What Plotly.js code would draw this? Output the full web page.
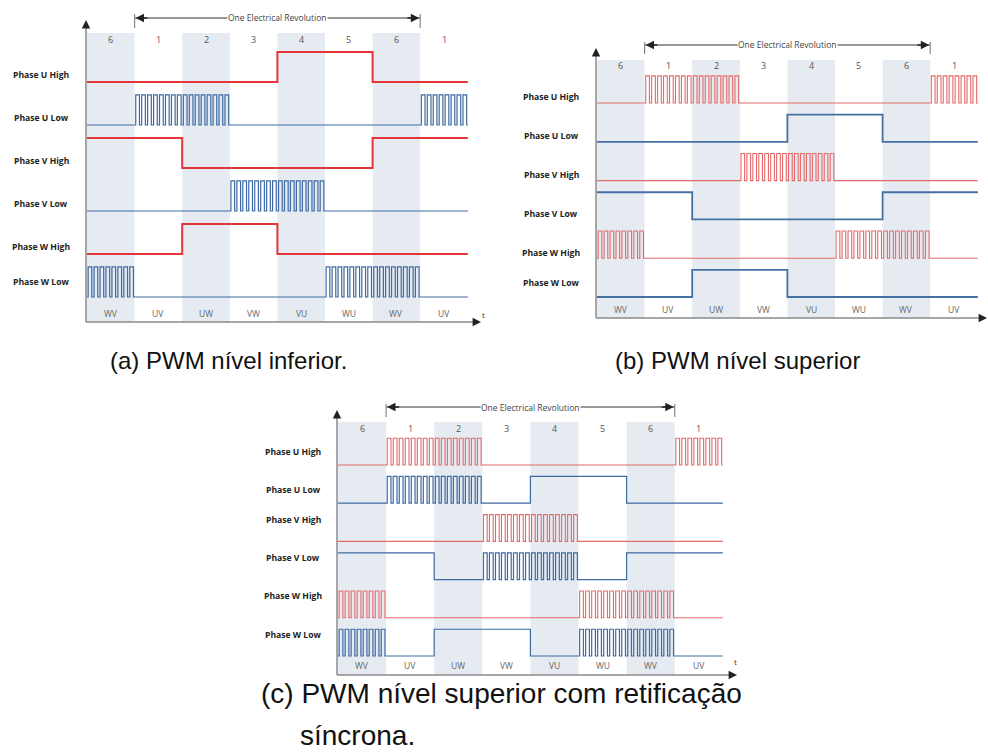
<!DOCTYPE html>
<html><head><meta charset="utf-8">
<script src="https://cdn.plot.ly/plotly-3.0.1.min.js"></script>
<style>html,body{margin:0;padding:0;background:#fff}#chart{width:988px;height:753px}</style>
</head><body><div id="chart"></div>
<script>
// ---------------- data ----------------
const columnNumbers = ['6','1','2','3','4','5','6','1'];
const commutationLabels = ['WV','UV','UW','VW','VU','WU','WV','UV'];
const shadedColumns = [1,0,1,0,1,0,1,0];
const phaseLabels = ['Phase U High','Phase U Low','Phase V High','Phase V Low','Phase W High','Phase W Low'];
const revolutionLabel = 'One Electrical Revolution';
const revolutionStartColumn = 1;
const revolutionEndColumn = 7;
const pulsesPerColumn = 8;
// states per commutation column: 0 = off, 1 = on, 2 = PWM
// (a) PWM on low side
const aUHigh = [0,0,0,0,1,1,0,0];
const aULow  = [0,2,2,0,0,0,0,2];
const aVHigh = [1,1,0,0,0,0,1,1];
const aVLow  = [0,0,0,2,2,0,0,0];
const aWHigh = [0,0,1,1,0,0,0,0];
const aWLow  = [2,0,0,0,0,2,2,0];
// (b) PWM on high side
const bUHigh = [0,2,2,0,0,0,0,2];
const bULow  = [0,0,0,0,1,1,0,0];
const bVHigh = [0,0,0,2,2,0,0,0];
const bVLow  = [1,1,0,0,0,0,1,1];
const bWHigh = [2,0,0,0,0,2,2,0];
const bWLow  = [0,0,1,1,0,0,0,0];
// (c) high side PWM with synchronous rectification
const cUHigh = [0,2,2,0,0,0,0,2];
const cULow  = [0,2,2,0,1,1,0,0];
const cVHigh = [0,0,0,2,2,0,0,0];
const cVLow  = [1,1,0,2,2,0,1,1];
const cWHigh = [2,0,0,0,0,2,2,0];
const cWLow  = [2,0,1,1,0,2,2,0];
const captionA = '(a) PWM nível inferior.';
const captionB = '(b) PWM nível superior';
const captionC1 = '(c) PWM nível superior com retificação';
const captionC2 = 'síncrona.';

// ---------------- layout geometry (pixels) ----------------
const W = 988, H = 753;
const AMP = 0.7, DUTY = 0.62;
const panels = [
  {ax:'', rows:[aUHigh,aULow,aVHigh,aVLow,aWHigh,aWLow], colStart:87, colW:47.6, yAxisX:86, arrowEndX:481,
   xAxisY:322, yTopY:20, baseLowY:297, rowSp:43, bandTopY:33, numberY:40, bottomY:313, labelX:41,
   revY:18, revTick:[8,28], t:[483,314]},
  {ax:'2', rows:[bUHigh,bULow,bVHigh,bVLow,bWHigh,bWLow], colStart:597, colW:47.6, yAxisX:596, arrowEndX:987,
   xAxisY:318, yTopY:48, baseLowY:297, rowSp:38.8, bandTopY:60, numberY:66, bottomY:310, labelX:551,
   revY:45, revTick:[37,54], t:null},
  {ax:'3', rows:[cUHigh,cULow,cVHigh,cVLow,cWHigh,cWLow], colStart:338, colW:48.1, yAxisX:337, arrowEndX:737,
   xAxisY:675, yTopY:410, baseLowY:656, rowSp:38.2, bandTopY:422, numberY:428, bottomY:665, labelX:293,
   revY:407, revTick:[399,417], t:[739,669]}
];

function buildRow(states, base){
  const xs = [], ys = [];
  states.forEach((s, c) => {
    if (s === 2) {
      xs.push(c); ys.push(base);
      for (let k = 0; k < pulsesPerColumn; k++) {
        const t0 = c + k / pulsesPerColumn;
        const r = t0 + (1 - DUTY) / 2 / pulsesPerColumn;
        const f = t0 + (1 + DUTY) / 2 / pulsesPerColumn;
        xs.push(r, r, f, f); ys.push(base, base + AMP, base + AMP, base);
      }
      xs.push(c + 1); ys.push(base);
    } else {
      const lv = s === 1 ? base + AMP : base;
      xs.push(c, c + 1); ys.push(lv, lv);
    }
  });
  return {xs, ys};
}

const traces = [], shapes = [], annotations = [], layout = {};
const fam = 'Open Sans, DejaVu Sans, sans-serif';

panels.forEach(p => {
  const xd = px => (px - p.colStart) / p.colW;
  const yd = py => (p.baseLowY - py) / p.rowSp;
  const L = p.yAxisX - 4, R = Math.min(W, p.arrowEndX + 6);
  const T = p.yTopY - 6, B = Math.min(H, p.xAxisY + 6);
  const xa = 'x' + p.ax, ya = 'y' + p.ax;
  const hidden = {showgrid:false, zeroline:false, showticklabels:false, showline:false, ticks:'', fixedrange:true};
  layout['xaxis' + p.ax] = Object.assign({domain:[L/W, R/W], range:[xd(L), xd(R)], anchor:ya}, hidden);
  layout['yaxis' + p.ax] = Object.assign({domain:[1 - B/H, 1 - T/H], range:[yd(B), yd(T)], anchor:xa}, hidden);

  // shaded columns
  shadedColumns.forEach((s, c) => {
    if (s) shapes.push({type:'rect', xref:xa, yref:ya, x0:c, x1:c+1, y0:yd(p.xAxisY), y1:yd(p.bandTopY),
      fillcolor:'#e6ebf2', line:{width:0}, layer:'below'});
  });
  // column numbers and commutation labels
  columnNumbers.forEach((n, c) => {
    annotations.push({xref:xa, yref:ya, x:c+0.5, y:yd(p.numberY), text:n, showarrow:false,
      font:{family:fam, size:9, color:'#555'}});
    annotations.push({xref:xa, yref:ya, x:c+0.5, y:yd(p.bottomY), text:commutationLabels[c], showarrow:false,
      font:{family:fam, size:8.5, color:'#666'}});
  });
  // axes (gray lines + dark heads)
  shapes.push({type:'line', xref:xa, yref:ya, x0:xd(p.yAxisX), x1:xd(p.arrowEndX - 4), y0:yd(p.xAxisY), y1:yd(p.xAxisY),
    line:{color:'#8a8a8a', width:1.5}});
  shapes.push({type:'line', xref:xa, yref:ya, x0:xd(p.yAxisX), x1:xd(p.yAxisX), y0:yd(p.xAxisY), y1:yd(p.yTopY + 4),
    line:{color:'#8a8a8a', width:1.5}});
  annotations.push({xref:xa, yref:ya, axref:xa, ayref:ya, x:xd(p.arrowEndX), y:yd(p.xAxisY),
    ax:xd(p.arrowEndX - 8), ay:yd(p.xAxisY), text:'', showarrow:true, arrowhead:2, arrowsize:1.2, arrowwidth:1.4, arrowcolor:'#222'});
  annotations.push({xref:xa, yref:ya, axref:xa, ayref:ya, x:xd(p.yAxisX), y:yd(p.yTopY),
    ax:xd(p.yAxisX), ay:yd(p.yTopY + 8), text:'', showarrow:true, arrowhead:2, arrowsize:1.2, arrowwidth:1.4, arrowcolor:'#222'});
  if (p.t) annotations.push({xref:'paper', yref:'paper', x:p.t[0]/W, y:1 - p.t[1]/H, text:'t', showarrow:false,
    font:{family:fam, size:8, color:'#333'}});

  // one electrical revolution
  const ry = yd(p.revY);
  shapes.push({type:'line', xref:xa, yref:ya, x0:revolutionStartColumn, x1:revolutionEndColumn, y0:ry, y1:ry,
    line:{color:'#333', width:1.2}});
  [revolutionStartColumn, revolutionEndColumn].forEach(c => {
    shapes.push({type:'line', xref:xa, yref:ya, x0:c, x1:c, y0:yd(p.revTick[1]), y1:yd(p.revTick[0]),
      line:{color:'#888', width:1.2}});
  });
  annotations.push({xref:xa, yref:ya, axref:xa, ayref:ya, x:revolutionStartColumn + 0.02, y:ry,
    ax:revolutionStartColumn + 0.3, ay:ry, text:'', showarrow:true, arrowhead:2, arrowsize:1.3, arrowwidth:1.3, arrowcolor:'#222'});
  annotations.push({xref:xa, yref:ya, axref:xa, ayref:ya, x:revolutionEndColumn - 0.02, y:ry,
    ax:revolutionEndColumn - 0.3, ay:ry, text:'', showarrow:true, arrowhead:2, arrowsize:1.3, arrowwidth:1.3, arrowcolor:'#222'});
  annotations.push({xref:xa, yref:ya, x:(revolutionStartColumn + revolutionEndColumn)/2, y:ry, text:revolutionLabel,
    showarrow:false, bgcolor:'#fff', borderpad:0, font:{family:fam, size:8.5, color:'#444'}});

  // signal rows
  p.rows.forEach((states, i) => {
    const base = 5 - i;
    const {xs, ys} = buildRow(states, base);
    const isHigh = i % 2 === 0;
    const hasPwm = states.includes(2);
    let color, width;
    if (isHigh) { color = hasPwm ? '#e46a6a' : '#e3363b'; width = hasPwm ? 1.1 : 2; }
    else { color = hasPwm ? '#3e6aa3' : '#4570a2'; width = hasPwm ? 1.2 : 1.8; }
    traces.push({type:'scatter', mode:'lines', x:xs, y:ys, xaxis:xa, yaxis:ya, hoverinfo:'skip', showlegend:false,
      line:{color, width, shape:'linear'}});
    const labelPy = p.baseLowY - p.rowSp * (base + AMP/2);
    annotations.push({xref:'paper', yref:'paper', x:p.labelX/W, y:1 - labelPy/H, text:'<b>' + phaseLabels[i] + '</b>',
      showarrow:false, xanchor:'center', font:{family:fam, size:8.6, color:'#222'}});
  });
});

// captions
const capFont = {family:'Liberation Sans, Arial, sans-serif', size:24, color:'#111'};
const capFontC = {family:'Liberation Sans, Arial, sans-serif', size:28, color:'#111'};
[[captionA, 108, 360, capFont], [captionB, 613, 360, capFont], [captionC1, 259, 693, capFontC], [captionC2, 298, 735, capFontC]].forEach(([t, x, y, f]) => {
  annotations.push({xref:'paper', yref:'paper', x:x/W, y:1 - y/H, text:t, showarrow:false, xanchor:'left', yanchor:'middle', font:f});
});

Object.assign(layout, {width:W, height:H, margin:{l:0, r:0, t:0, b:0}, paper_bgcolor:'#fff', plot_bgcolor:'rgba(0,0,0,0)',
  showlegend:false, shapes, annotations});
Plotly.newPlot('chart', traces, layout, {staticPlot:true, displayModeBar:false});
</script></body></html>
